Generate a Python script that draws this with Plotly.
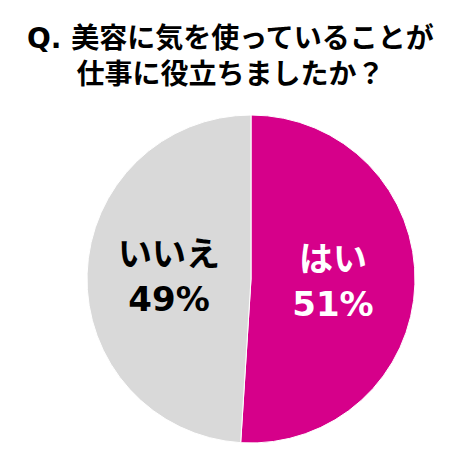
import plotly.graph_objects as go

labels = ["はい", "いいえ"]
values = [51, 49]
colors = ["#D6008A", "#D9D9D9"]
text_colors = ["#FFFFFF", "#000000"]

W, H = 463, 465
cx, cy, r = 243, 271, 164

fig = go.Figure(go.Pie(
    labels=labels,
    values=values,
    sort=False,
    direction="clockwise",
    rotation=0,
    marker=dict(colors=colors, line=dict(color="#FFFFFF", width=1)),
    texttemplate="<b>%{label}<br>%{value}%</b>",
    textposition="inside",
    insidetextorientation="horizontal",
    textfont=dict(family="DejaVu Sans, Noto Sans CJK JP", size=34, color=text_colors),
    hoverinfo="skip",
    showlegend=False,
    domain=dict(x=[(cx - r) / W, (cx + r) / W], y=[(H - cy - r) / H, (H - cy + r) / H]),
))

fig.update_layout(
    width=W, height=H,
    margin=dict(l=0, r=0, t=0, b=0),
    paper_bgcolor="white",
    plot_bgcolor="white",
    annotations=[dict(
        text="<b>Q. 美容に気を使っていることが<br>仕事に役立ちましたか？</b>",
        x=222 / W, y=1 - 48 / H, xref="paper", yref="paper",
        xanchor="center", yanchor="middle", showarrow=False,
        font=dict(family="DejaVu Sans, Noto Sans CJK JP", size=28, color="#000000"),
        align="center",
    )],
)

fig.write_html("out.html")
